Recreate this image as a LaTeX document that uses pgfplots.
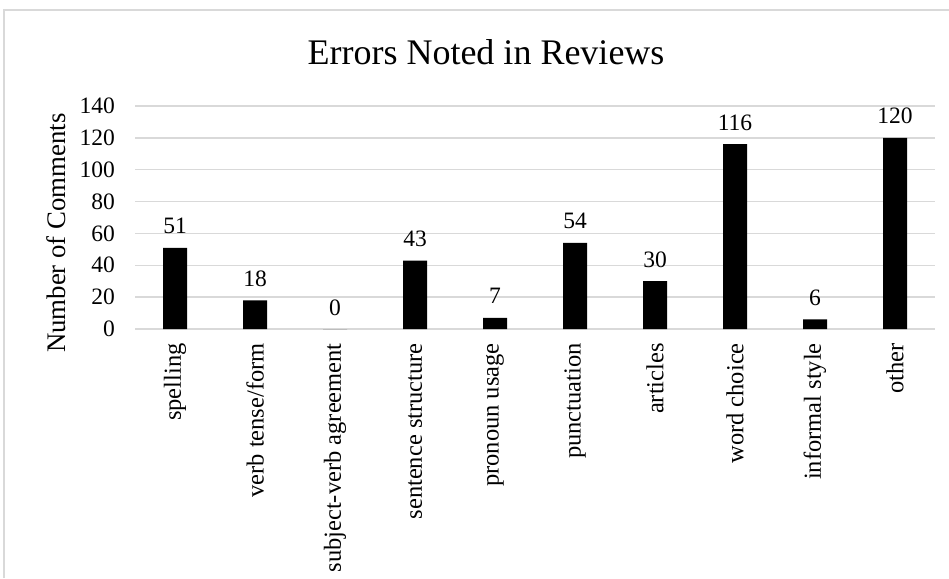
\documentclass[border=0pt]{standalone}
\usepackage{pgfplots}
\pgfplotsset{compat=1.18}
\usepackage{fontspec}
\setmainfont{Liberation Serif}
\definecolor{gridc}{RGB}{217,217,217}
\begin{document}
\begin{tikzpicture}[x=1pt,y=1pt]
\path[use as bounding box] (0,0) rectangle (949,578);
\draw[gridc, line width=2pt] (4,0) -- (4,568) -- (949,568);
\node[font=\fontsize{36}{40}\selectfont, anchor=base] at (486,513) {Errors Noted in Reviews};
\begin{axis}[
  at={(135pt,249pt)}, anchor=south west,
  scale only axis, width=800pt, height=223pt,
  xmin=-0.5, xmax=9.5, ymin=0, ymax=140,
  ytick={0,20,...,140},
  xtick={0,...,9},
  xticklabels={spelling,verb tense/form,subject-verb agreement,sentence structure,pronoun usage,punctuation,articles,word choice,informal style,other},
  axis line style={draw=none},
  major tick length=0pt,
  ymajorgrids, major grid style={draw=gridc, line width=1.5pt},
  ticklabel style={font=\fontsize{23.5}{26}\selectfont},
  xticklabel style={rotate=90, anchor=east, inner sep=0pt, font=\fontsize{24.5}{27}\selectfont},
  xticklabel shift=14pt,
  yticklabel style={inner sep=0pt},
  yticklabel shift=20pt,
  /pgf/number format/assume math mode=true,
  ylabel={Number of Comments},
  ylabel style={font=\fontsize{26.8}{30}\selectfont, at={(axis description cs:-0.098,0.43)}, anchor=center},
  nodes near coords,
  every node near coord/.append style={font=\fontsize{23.5}{26}\selectfont, anchor=base, yshift=14pt, text=black},
  clip=false,
]
\addplot[ybar, bar width=24pt, fill=black, draw=none] coordinates {
(0,51) (1,18) (2,0) (3,43) (4,7) (5,54) (6,30) (7,116) (8,6) (9,120)
};
\end{axis}
\end{tikzpicture}
\end{document}
